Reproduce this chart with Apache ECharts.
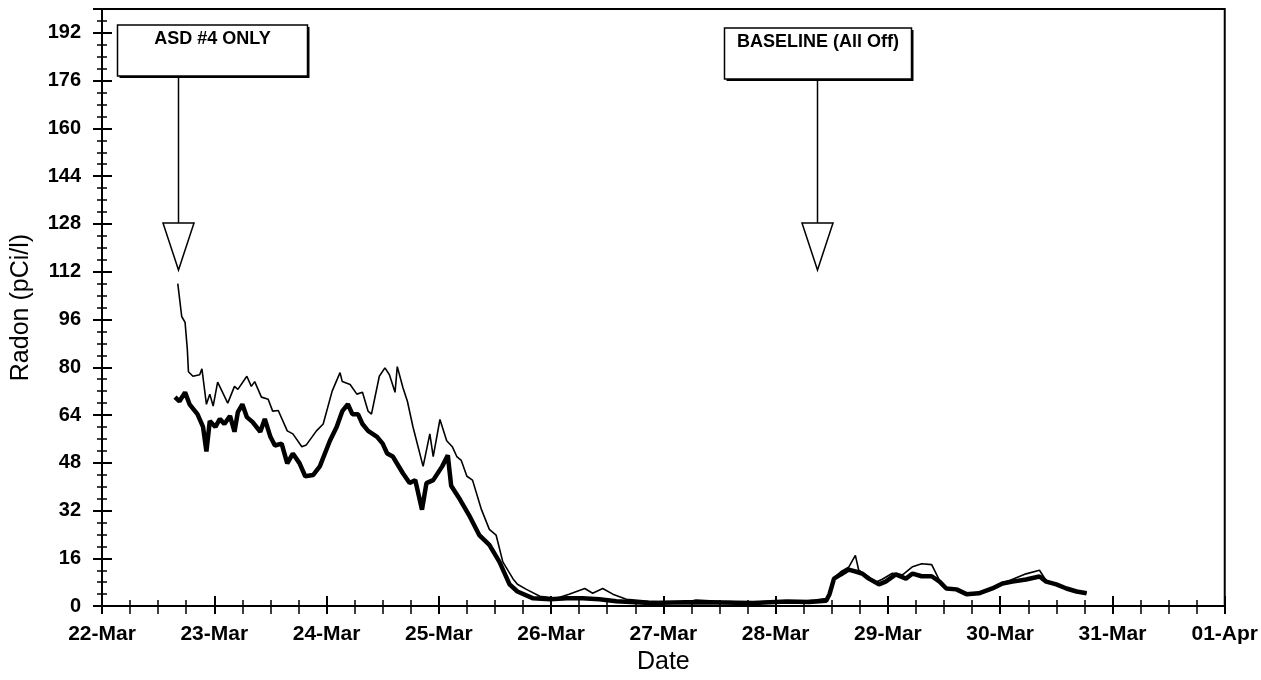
<!DOCTYPE html>
<html>
<head>
<meta charset="utf-8">
<title>Radon</title>
<script src="https://cdn.jsdelivr.net/npm/echarts@6/dist/echarts.min.js"></script>
<style>
  html, body { margin: 0; padding: 0; background: #fff; }
  #radonChart { width: 1261px; height: 680px; }
</style>
</head>
<body>
<div id="radonChart"></div>
<script>
// x = days after 22-Mar 00:00, y = radon in pCi/l
var dayLabels = ['22-Mar', '23-Mar', '24-Mar', '25-Mar', '26-Mar', '27-Mar', '28-Mar', '29-Mar', '30-Mar', '31-Mar', '01-Apr']

var thinLine = [
  [0.675, 108], [0.71, 97], [0.74, 95], [0.76, 86], [0.77, 78.5], [0.81, 77], [0.87, 77.5], [0.89, 79.5],
  [0.93, 67.6], [0.96, 71], [0.99, 67], [1.03, 75], [1.12, 68], [1.18, 73.6], [1.21, 72.6], [1.29, 77],
  [1.33, 73.6], [1.36, 75.2], [1.42, 70], [1.48, 69.3], [1.52, 65.3], [1.57, 65.5], [1.65, 58.7], [1.70, 57.7],
  [1.78, 53.4], [1.82, 54], [1.91, 58.7], [1.97, 61], [2.05, 72], [2.12, 78.2], [2.14, 75.2], [2.21, 74.2],
  [2.27, 71], [2.32, 71.6], [2.37, 65.3], [2.40, 64.3], [2.47, 77], [2.52, 79.8], [2.56, 77.5], [2.61, 71.6],
  [2.63, 80.2], [2.68, 73.2], [2.72, 68.6], [2.77, 60], [2.86, 46.8], [2.92, 57.7], [2.95, 50.1], [3.01, 62.5],
  [3.07, 55.4], [3.12, 53.4], [3.16, 50.1], [3.20, 48.8], [3.25, 43.5], [3.30, 42.2], [3.38, 32.3], [3.45, 25.7],
  [3.51, 23.8], [3.57, 14.8], [3.66, 9.2], [3.70, 7.3], [3.78, 5.6], [3.90, 3.3], [4.05, 2.6], [4.16, 4],
  [4.30, 5.9], [4.37, 4.3], [4.46, 5.9], [4.55, 4], [4.67, 2.3], [4.87, 1.6], [5.17, 1], [5.29, 2],
  [5.5, 1.6], [5.8, 1.3], [6.0, 1.8], [6.2, 1.5], [6.35, 2.0], [6.45, 2.5], [6.48, 4.5], [6.52, 9.5],
  [6.58, 11.5], [6.65, 13], [6.71, 17], [6.74, 12], [6.80, 10.5], [6.89, 8], [6.95, 9], [7.04, 11],
  [7.13, 10.5], [7.22, 13.2], [7.30, 14.2], [7.39, 13.9], [7.46, 8.5], [7.52, 6.2], [7.61, 5.6], [7.70, 4.3],
  [7.81, 4.5], [7.93, 6.2], [8.02, 7.8], [8.10, 8.8], [8.23, 10.8], [8.35, 12], [8.41, 8.5], [8.50, 7.5],
  [8.59, 6], [8.68, 5], [8.77, 4.3]
]

var thickLine = [
  [0.65, 70], [0.69, 68.6], [0.74, 71.6], [0.78, 67.6], [0.85, 64.3], [0.90, 60], [0.93, 51.8], [0.96, 62],
  [1.01, 60], [1.05, 62.7], [1.09, 61], [1.14, 63.7], [1.18, 58.4], [1.21, 65], [1.25, 67.6], [1.29, 63.3],
  [1.34, 61.7], [1.41, 58.4], [1.45, 62.7], [1.50, 56.7], [1.54, 53.8], [1.60, 54.4], [1.65, 47.8], [1.70, 51.1],
  [1.76, 47.8], [1.81, 43.5], [1.88, 43.9], [1.94, 46.8], [2.03, 55.4], [2.09, 60], [2.14, 65.3], [2.19, 67.6],
  [2.23, 64.3], [2.28, 64.3], [2.32, 61], [2.37, 58.7], [2.45, 56.7], [2.50, 54.4], [2.54, 51.1], [2.59, 50.1],
  [2.68, 44.5], [2.74, 41.2], [2.79, 42.2], [2.85, 32.3], [2.89, 41.2], [2.95, 42.2], [3.03, 46.8], [3.08, 50.5],
  [3.11, 40.3], [3.19, 35.6], [3.27, 30.4], [3.36, 23.8], [3.45, 20.5], [3.54, 14.8], [3.63, 7.3], [3.70, 4.9],
  [3.84, 2.6], [3.99, 2.3], [4.14, 2.6], [4.28, 2.6], [4.43, 2.3], [4.58, 1.6], [4.88, 1], [5.2, 1.3],
  [5.5, 1.2], [5.8, 1.0], [6.1, 1.5], [6.3, 1.4], [6.45, 1.8], [6.48, 4], [6.52, 9.2], [6.58, 10.6],
  [6.65, 12.2], [6.72, 11.5], [6.77, 10.9], [6.83, 9.2], [6.92, 7.3], [6.98, 8.2], [7.07, 10.6], [7.16, 9.2],
  [7.22, 10.9], [7.30, 10], [7.39, 10], [7.46, 8.2], [7.52, 5.9], [7.61, 5.6], [7.70, 4], [7.81, 4.3],
  [7.93, 5.9], [8.02, 7.6], [8.11, 8.2], [8.23, 8.9], [8.35, 9.9], [8.41, 8.2], [8.50, 7.3], [8.59, 5.9],
  [8.68, 4.9], [8.77, 4.3]
]

var eventDays = [0.676, 6.37]
var eventLabels = ['ASD #4 ONLY', 'BASELINE (All Off)']

var font = 'Arial, "Liberation Sans", sans-serif'
var black = '#000'

var chart = echarts.init(document.getElementById('radonChart'))

chart.setOption({
  animation: false,
  backgroundColor: '#fff',
  grid: {
    left: 102,
    right: 35,
    top: 9,
    bottom: 65,
    show: true,
    borderColor: black,
    borderWidth: 2
  },
  xAxis: [{
    type: 'value',
    position: 'bottom',
    min: 0,
    max: 10,
    interval: 1,
    name: 'Date',
    nameLocation: 'middle',
    nameGap: 39,
    nameTextStyle: { fontFamily: font, fontSize: 25, color: black },
    axisLine: { lineStyle: { color: black, width: 2 } },
    axisTick: { length: 8, lineStyle: { color: black, width: 2 } },
    minorTick: { show: true, splitNumber: 4, length: 8, lineStyle: { color: black, width: 1.5 } },
    splitLine: { show: false },
    axisLabel: {
      margin: 18,
      fontFamily: font,
      fontWeight: 'bold',
      fontSize: 21,
      color: black,
      formatter: function(v) {
        return dayLabels[Math.round(v)]
      }
    }
  }, {
    // inner half of the crossing ticks
    type: 'value',
    position: 'bottom',
    min: 0,
    max: 10,
    interval: 1,
    axisLine: { show: false },
    axisTick: { inside: true, length: 10, lineStyle: { color: black, width: 2 } },
    minorTick: { show: true, splitNumber: 4, length: 6, lineStyle: { color: black, width: 1.5 } },
    splitLine: { show: false },
    axisLabel: { show: false }
  }],
  yAxis: [{
    type: 'value',
    position: 'left',
    min: 0,
    max: 200,
    interval: 16,
    name: 'Radon (pCi/l)',
    nameLocation: 'middle',
    nameGap: 68,
    nameTextStyle: { fontFamily: font, fontSize: 25, color: black },
    axisLine: { show: true, lineStyle: { color: black, width: 2 } },
    axisTick: { show: true, length: 9, lineStyle: { color: black, width: 2 } },
    minorTick: { show: true, splitNumber: 4, length: 5, lineStyle: { color: black, width: 1.5 } },
    splitLine: { show: false },
    axisLabel: {
      margin: 21,
      showMaxLabel: false,
      fontFamily: font,
      fontWeight: 'bold',
      fontSize: 20,
      color: black
    }
  }, {
    type: 'value',
    position: 'left',
    min: 0,
    max: 200,
    interval: 16,
    axisLine: { show: false },
    axisTick: { show: true, inside: true, length: 10, lineStyle: { color: black, width: 2 } },
    minorTick: { show: true, splitNumber: 4, length: 5, lineStyle: { color: black, width: 1.5 } },
    splitLine: { show: false },
    axisLabel: { show: false }
  }],
  series: [{
    name: 'upper',
    type: 'line',
    data: thinLine,
    showSymbol: false,
    lineStyle: { color: black, width: 1.6 },
    z: 3
  }, {
    name: 'lower',
    type: 'line',
    data: thickLine,
    showSymbol: false,
    lineStyle: { color: black, width: 4.5 },
    z: 4
  }]
})

// annotation boxes with arrows
var boxes = [
  { left: -61, width: 190, top: 25 },
  { left: -93, width: 187, top: 28 }
]
var elements = []
eventDays.forEach(function(d, i) {
  var x = Math.round(chart.convertToPixel({ xAxisIndex: 0, yAxisIndex: 0 }, [d, 0])[0]) + 0.5
  var b = boxes[i]
  var boxBottom = b.top + 51
  elements.push({
    type: 'rect',
    shape: { x: x + b.left + 2, y: b.top + 2, width: b.width, height: 51 },
    style: { fill: black },
    z: 10
  })
  elements.push({
    type: 'rect',
    shape: { x: x + b.left, y: b.top, width: b.width, height: 51 },
    style: { fill: '#fff', stroke: black, lineWidth: 1.5 },
    z: 11
  })
  elements.push({
    type: 'text',
    x: x + b.left + b.width / 2,
    y: b.top + 14,
    style: {
      text: eventLabels[i],
      fontFamily: font,
      fontWeight: 'bold',
      fontSize: 18,
      fill: black,
      align: 'center',
      verticalAlign: 'middle'
    },
    z: 12
  })
  elements.push({
    type: 'line',
    shape: { x1: x, y1: boxBottom + 2, x2: x, y2: 223 },
    style: { stroke: black, lineWidth: 1.5 },
    z: 11
  })
  elements.push({
    type: 'polygon',
    shape: { points: [[x - 15.5, 223], [x + 15.5, 223], [x, 270]] },
    style: { fill: '#fff', stroke: black, lineWidth: 1.5 },
    z: 11
  })
})
chart.setOption({ graphic: elements })
</script>
</body>
</html>
